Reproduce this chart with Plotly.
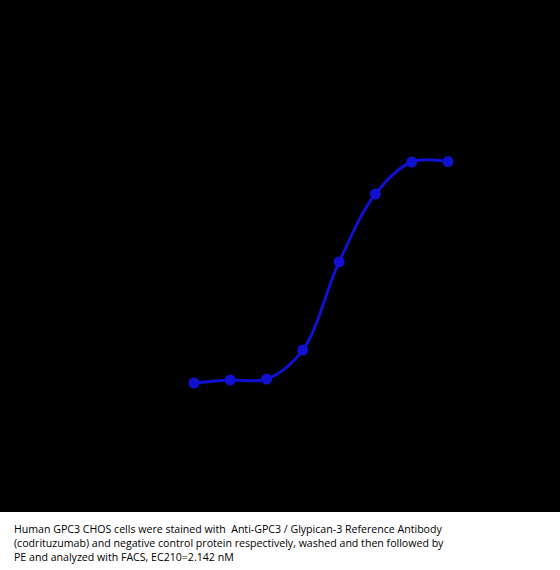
import plotly.graph_objects as go

# Concentration (nM), 3-fold serial dilution
concentration = [0.0457, 0.137, 0.412, 1.23, 3.70, 11.1, 33.3, 100.0]
# Mean fluorescence intensity (estimated)
mfi = [1000, 1340, 1450, 4730, 14690, 22380, 26000, 26050]

caption_lines = [
    "Human GPC3 CHOS cells were stained with  Anti-GPC3 / Glypican-3 Reference Antibody",
    "(codrituzumab) and negative control protein respectively, washed and then followed by",
    "PE and analyzed with FACS, EC210=2.142 nM",
]

blue = "#1010d0"

fig = go.Figure()
fig.add_trace(go.Scatter(
    x=concentration, y=mfi,
    mode="lines+markers",
    line=dict(color=blue, width=3, shape="spline", smoothing=1.0),
    marker=dict(color=blue, size=11),
    showlegend=False,
    hoverinfo="skip",
))

fig.update_layout(
    width=560, height=570,
    margin=dict(l=0, r=0, t=0, b=58),
    paper_bgcolor="white",
    plot_bgcolor="black",
    xaxis=dict(type="log", range=[-3.891, 3.473], visible=False, showgrid=False),
    yaxis=dict(range=[-13593, 44326], visible=False, showgrid=False),
    annotations=[dict(
        text="<br>".join(caption_lines),
        xref="paper", yref="paper", x=12/560, y=-0.015,
        xanchor="left", yanchor="top", align="left", showarrow=False,
        font=dict(family="Open Sans", size=10.6, color="black"),
    )],
)

fig.write_html("out.html", config={"displayModeBar": False},
               post_script="document.body.style.margin='0';document.body.style.padding='0';")
